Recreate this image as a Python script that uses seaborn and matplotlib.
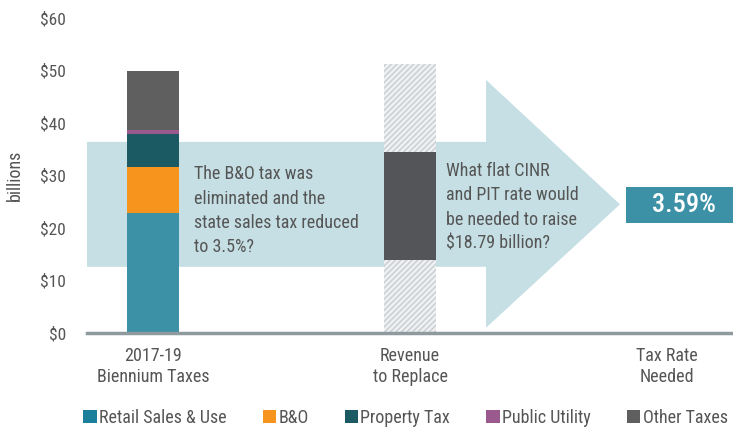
import matplotlib
matplotlib.use('Agg')
import matplotlib.pyplot as plt
import pandas as pd
import seaborn as sns
from matplotlib.patches import Patch, Polygon, Rectangle

categories = ['2017-19\nBiennium Taxes', 'Revenue\nto Replace', 'Tax Rate\nNeeded']
tax_types = ['Retail Sales & Use', 'B&O', 'Property Tax', 'Public Utility', 'Other Taxes']
tax_values = [22.9, 8.8, 6.2, 0.8, 11.2]
tax_colors = ['#3d91a6', '#f7941d', '#1c5a63', '#9a5a8e', '#5f5f5f']
legend_colors = ['#1a7f9a', '#f7941d', '#1c5a63', '#9a5a8e', '#5f5f5f']

replace_total = 51.3
replace_low = 13.9
replace_high = 34.5
rate_text = '3.59%'

sns.set_style('white')
plt.rcParams['font.family'] = ['Roboto Condensed', 'DejaVu Sans']
plt.rcParams['font.stretch'] = 'condensed'
plt.rcParams['hatch.linewidth'] = 1.0
txt = '#555555'

fig = plt.figure(figsize=(7.33, 4.3), dpi=100)
ax = fig.add_axes([0.1187, 0.2256, 0.8813, 0.7326])

# big light blue arrow behind the bars
arrow = Polygon([(-0.257, 12.6), (1.296, 12.6), (1.296, 1.0), (1.817, 24.5),
                 (1.296, 48.2), (1.296, 36.4), (-0.257, 36.4)],
                closed=True, facecolor='#c5dfe4', edgecolor='none', zorder=0)
ax.add_patch(arrow)

# stacked bar: cumulative totals drawn from the top down
df = pd.DataFrame({'cat': [categories[0]] * len(tax_types), 'type': tax_types, 'value': tax_values})
df['cum'] = df['value'].cumsum()
for i in range(len(tax_types) - 1, -1, -1):
    sns.barplot(data=df.iloc[[i]], x='cat', y='cum', order=categories, color=tax_colors[i],
                width=0.2, saturation=1, linewidth=0, ax=ax, zorder=2)

# hatched revenue bar with the dark replace box
rep = pd.DataFrame({'cat': [categories[1]] * 3, 'value': [replace_total, replace_high, replace_low]})
sns.barplot(data=rep.iloc[[0]], x='cat', y='value', order=categories, color='#eef0f2',
            width=0.2, saturation=1, linewidth=0, hatch='//////', edgecolor='#c9cdd1', ax=ax, zorder=2)
sns.barplot(data=rep.iloc[[1]], x='cat', y='value', order=categories, color='#545558',
            width=0.2, saturation=1, linewidth=0, ax=ax, zorder=2)
sns.barplot(data=rep.iloc[[2]], x='cat', y='value', order=categories, color='#eef0f2',
            width=0.2, saturation=1, linewidth=0, hatch='//////', edgecolor='#c9cdd1', ax=ax, zorder=2)

ax.set_xlim(-0.257, 2.257)
ax.set_ylim(0, 60)

# rate box
ax.add_patch(Rectangle((1.84, 21.0), 0.42, 6.8, facecolor='#3d91a6', edgecolor='none',
                       zorder=3, clip_on=False))
ax.text(2.065, 24.3, rate_text, color='white', fontsize=19, fontweight='medium',
        ha='center', va='center', zorder=4)

ax.text(0.16, 23.3, 'The B&O tax was\neliminated and the\nstate sales tax reduced\nto 3.5%?',
        color=txt, fontsize=13, ha='left', va='center', linespacing=1.45, zorder=4)
ax.text(1.14, 23.9, 'What flat CINR\nand PIT rate would\nbe needed to raise\n$18.79 billion?',
        color=txt, fontsize=13, ha='left', va='center', linespacing=1.45, zorder=4)

ax.set_yticks(range(0, 61, 10))
ax.set_yticklabels(['$' + str(v) for v in range(0, 61, 10)])
ax.tick_params(axis='y', length=0, pad=15, labelsize=12.5, labelcolor=txt)
ax.tick_params(axis='x', length=0, pad=10, labelsize=13, labelcolor=txt)
ax.set_xlabel('')
ax.set_ylabel('billions', fontsize=13, color=txt, labelpad=12)
for s in ['top', 'right', 'left']:
    ax.spines[s].set_visible(False)
ax.spines['bottom'].set_color('#8f9a9e')
ax.spines['bottom'].set_linewidth(2.5)

handles = [Patch(facecolor=c, edgecolor='none') for c in legend_colors]
fig.legend(handles, tax_types, loc='lower center', bbox_to_anchor=(0.553, -0.03), ncol=5,
           frameon=False, fontsize=13, handlelength=0.75, handleheight=0.75,
           handletextpad=0.12, columnspacing=2.0, labelcolor=txt)

fig.savefig('out.png', dpi=100)
